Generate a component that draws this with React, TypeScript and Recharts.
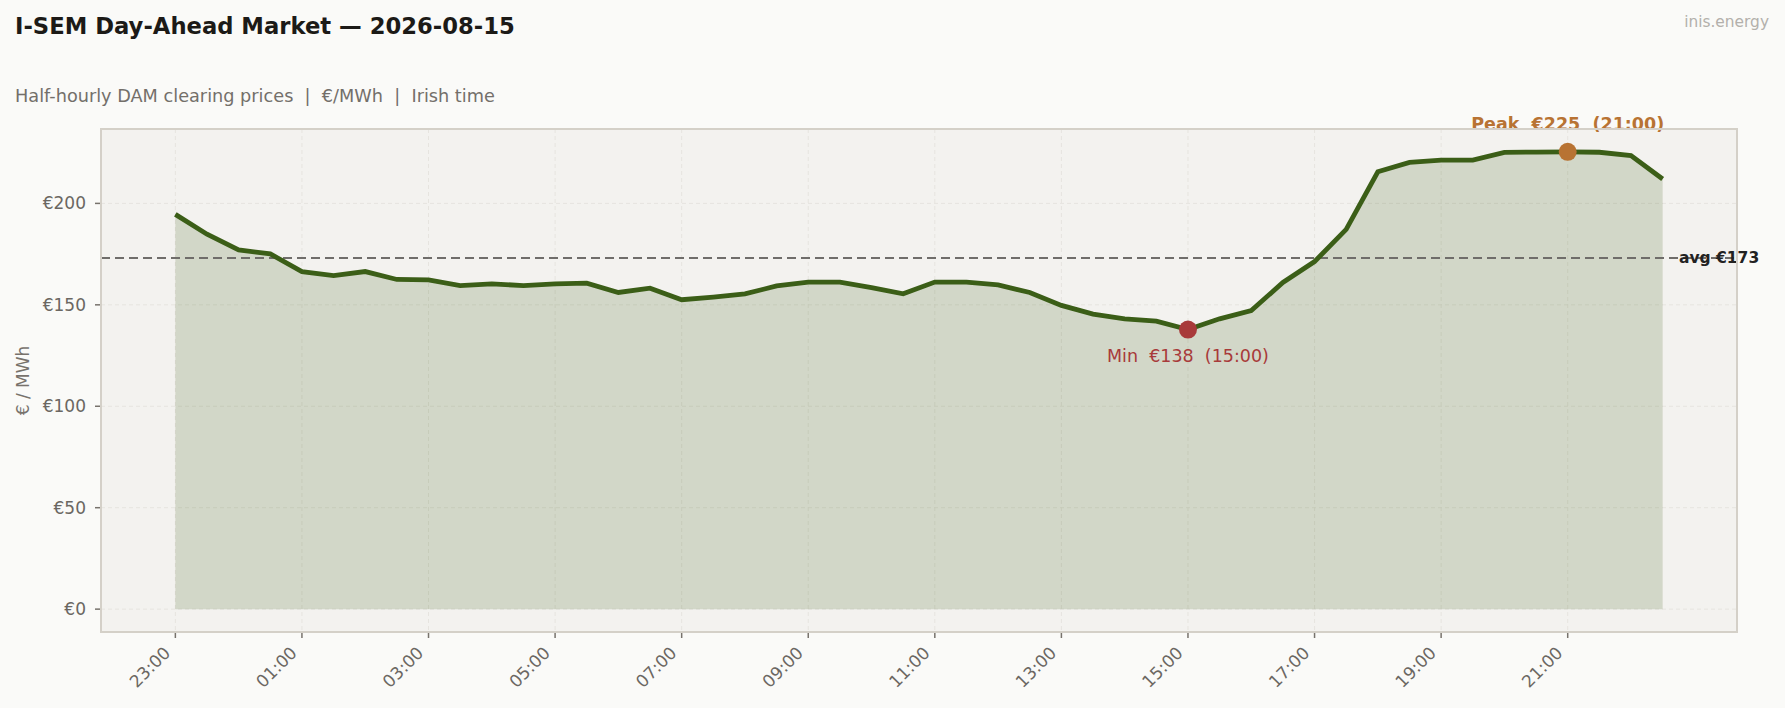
import React from "react";
import {
  ComposedChart,
  Area,
  Line,
  XAxis,
  YAxis,
  CartesianGrid,
  ReferenceLine,
  ReferenceDot,
} from "recharts";

// half-hourly settlement periods, Irish time (day runs 23:00 -> 22:30)
const times = [
  "23:00", "23:30", "00:00", "00:30", "01:00", "01:30", "02:00", "02:30",
  "03:00", "03:30", "04:00", "04:30", "05:00", "05:30", "06:00", "06:30",
  "07:00", "07:30", "08:00", "08:30", "09:00", "09:30", "10:00", "10:30",
  "11:00", "11:30", "12:00", "12:30", "13:00", "13:30", "14:00", "14:30",
  "15:00", "15:30", "16:00", "16:30", "17:00", "17:30", "18:00", "18:30",
  "19:00", "19:30", "20:00", "20:30", "21:00", "21:30", "22:00", "22:30",
];

// DAM clearing price, €/MWh
const prices = [
  194.6, 184.8, 177.1, 175.1, 166.4, 164.4, 166.4, 162.5,
  162.3, 159.5, 160.3, 159.5, 160.3, 160.7, 156.1, 158.2,
  152.5, 153.8, 155.4, 159.3, 161.2, 161.2, 158.5, 155.4,
  161.2, 161.2, 159.8, 156.1, 149.7, 145.4, 143.1, 142.0,
  137.8, 143.1, 147.2, 161.0, 171.3, 187.2, 215.6, 220.2,
  221.3, 221.3, 225.1, 225.3, 225.4, 225.2, 223.6, 212.0,
];

const xTickLabels = ["23:00", "01:00", "03:00", "05:00", "07:00", "09:00", "11:00", "13:00", "15:00", "17:00", "19:00", "21:00"];
const yTicks = [0, 50, 100, 150, 200];

const FONT = "DejaVu Sans";
const GREEN = "#3b5e17";
const RED = "#a83a3a";
const ORANGE = "#b87333";
const TICK_TXT = "#6b6762";

const W = 1785;
const H = 708;
const PLOT = { left: 101, top: 129, right: 1737, bottom: 632 };

const data = times.map((t, i) => ({ i, t, price: prices[i] }));
const n = prices.length;
const maxP = Math.max(...prices);
const minP = Math.min(...prices);
const maxIdx = prices.indexOf(maxP);
const minIdx = prices.indexOf(minP);
const avg = prices.reduce((a, b) => a + b, 0) / n;
const xTicks = xTickLabels.map((l) => times.indexOf(l));

const XTick = (props: any) => {
  const { x, y, payload } = props;
  return (
    <g transform={`translate(${x - 4},${y + 14})`}>
      <text
        x={0}
        y={0}
        textAnchor="end"
        transform="rotate(-45)"
        fill={TICK_TXT}
        fontSize={17}
        fontFamily={FONT}
      >
        {times[payload.value]}
      </text>
    </g>
  );
};

export default function App() {
  return (
    <div style={{ position: "relative", width: W, height: H, background: "#fafaf8" }}>
      <style>{`body{margin:0;background:#fafaf8}`}</style>
      <ComposedChart
        width={W}
        height={H}
        data={data}
        margin={{ top: PLOT.top, right: W - PLOT.right, bottom: 6, left: 0 }}
      >
        <CartesianGrid
          fill="#f3f2ef"
          stroke="#e6e4df"
          strokeDasharray="4 3"
          strokeWidth={1}
        />
        <XAxis
          dataKey="i"
          type="number"
          domain={[-(n - 1) * 0.05, (n - 1) * 1.05]}
          ticks={xTicks}
          allowDataOverflow
          interval={0}
          height={70}
          tickSize={6}
          axisLine={false}
          tickLine={{ stroke: "#77726c", strokeWidth: 1.5 }}
          tick={<XTick />}
        />
        <YAxis
          type="number"
          domain={[-maxP * 0.05, maxP * 1.05]}
          ticks={yTicks}
          allowDataOverflow
          width={PLOT.left}
          tickSize={6}
          tickMargin={9}
          axisLine={false}
          tickLine={{ stroke: "#77726c", strokeWidth: 1.5 }}
          tickFormatter={(v) => `€${v}`}
          tick={{ fill: TICK_TXT, fontSize: 17, fontFamily: FONT }}
          label={{
            content: (p: any) => {
              const vb = p.viewBox;
              const cx = vb.x + 23;
              const cy = PLOT.top + (PLOT.bottom - PLOT.top) / 2;
              return (
                <text
                  x={cx}
                  y={cy}
                  transform={`rotate(-90 ${cx} ${cy})`}
                  textAnchor="middle"
                  dominantBaseline="central"
                  fill="#77726c"
                  fontSize={17}
                  fontFamily={FONT}
                >
                  € / MWh
                </text>
              );
            },
          }}
        />
        <Area
          type="linear"
          dataKey="price"
          baseValue={0}
          fill={GREEN}
          fillOpacity={0.18}
          stroke={GREEN}
          strokeOpacity={0.15}
          strokeWidth={1.5}
          isAnimationActive={false}
        />
        <ReferenceLine
          y={avg}
          stroke="#6f6d6a"
          strokeWidth={2}
          strokeDasharray="9 5"
          label={{
            content: (p: any) => {
              const vb = p.viewBox;
              return (
                <text
                  x={vb.x + vb.width - 58}
                  y={vb.y}
                  dominantBaseline="central"
                  fill="#222"
                  fontSize={15.5}
                  fontWeight="bold"
                  fontFamily={FONT}
                >
                  {`avg €${Math.round(avg)}`}
                </text>
              );
            },
          }}
        />
        <Line
          type="linear"
          dataKey="price"
          stroke={GREEN}
          strokeWidth={4.8}
          dot={false}
          isAnimationActive={false}
        />
        <ReferenceDot
          x={minIdx}
          y={minP}
          r={9}
          fill={RED}
          stroke="none"
          label={{
            content: (p: any) => {
              const vb = p.viewBox;
              const cx = vb.x + vb.width / 2;
              const cy = vb.y + vb.height / 2;
              return (
                <text
                  x={cx}
                  y={cy + 32}
                  textAnchor="middle"
                  fill={RED}
                  fontSize={17.5}
                  fontFamily={FONT}
                  style={{ whiteSpace: "pre" }}
                >
                  {`Min  €${Math.round(minP)}  (${times[minIdx]})`}
                </text>
              );
            },
          }}
        />
        <ReferenceDot
          x={maxIdx}
          y={maxP}
          r={9}
          fill={ORANGE}
          stroke="none"
          label={{
            content: (p: any) => {
              const vb = p.viewBox;
              const cx = vb.x + vb.width / 2;
              const cy = vb.y + vb.height / 2;
              return (
                <text
                  x={cx}
                  y={cy - 22}
                  textAnchor="middle"
                  fill={ORANGE}
                  fontSize={17.5}
                  fontWeight="bold"
                  fontFamily={FONT}
                  style={{ whiteSpace: "pre" }}
                >
                  {`Peak  €${Math.round(maxP)}  (${times[maxIdx]})`}
                </text>
              );
            },
          }}
        />
      </ComposedChart>
      <svg
        width={W}
        height={H}
        style={{ position: "absolute", left: 0, top: 0, pointerEvents: "none" }}
      >
        <rect
          x={PLOT.left}
          y={PLOT.top}
          width={PLOT.right - PLOT.left}
          height={PLOT.bottom - PLOT.top}
          fill="none"
          stroke="#d4d0c8"
          strokeWidth={2}
        />
        <text x={15} y={34} fontFamily={FONT} fontWeight="bold" fontSize={22.7} fill="#1c1a17">
          I-SEM Day-Ahead Market — 2026-08-15
        </text>
        <text x={15} y={102} fontFamily={FONT} fontSize={17.7} fill="#736f6a" style={{ whiteSpace: "pre" }}>
          {"Half-hourly DAM clearing prices  |  €/MWh  |  Irish time"}
        </text>
        <text x={1769} y={27} textAnchor="end" fontFamily={FONT} fontSize={15.4} fill="#b3b0ab">
          inis.energy
        </text>
      </svg>
    </div>
  );
}
